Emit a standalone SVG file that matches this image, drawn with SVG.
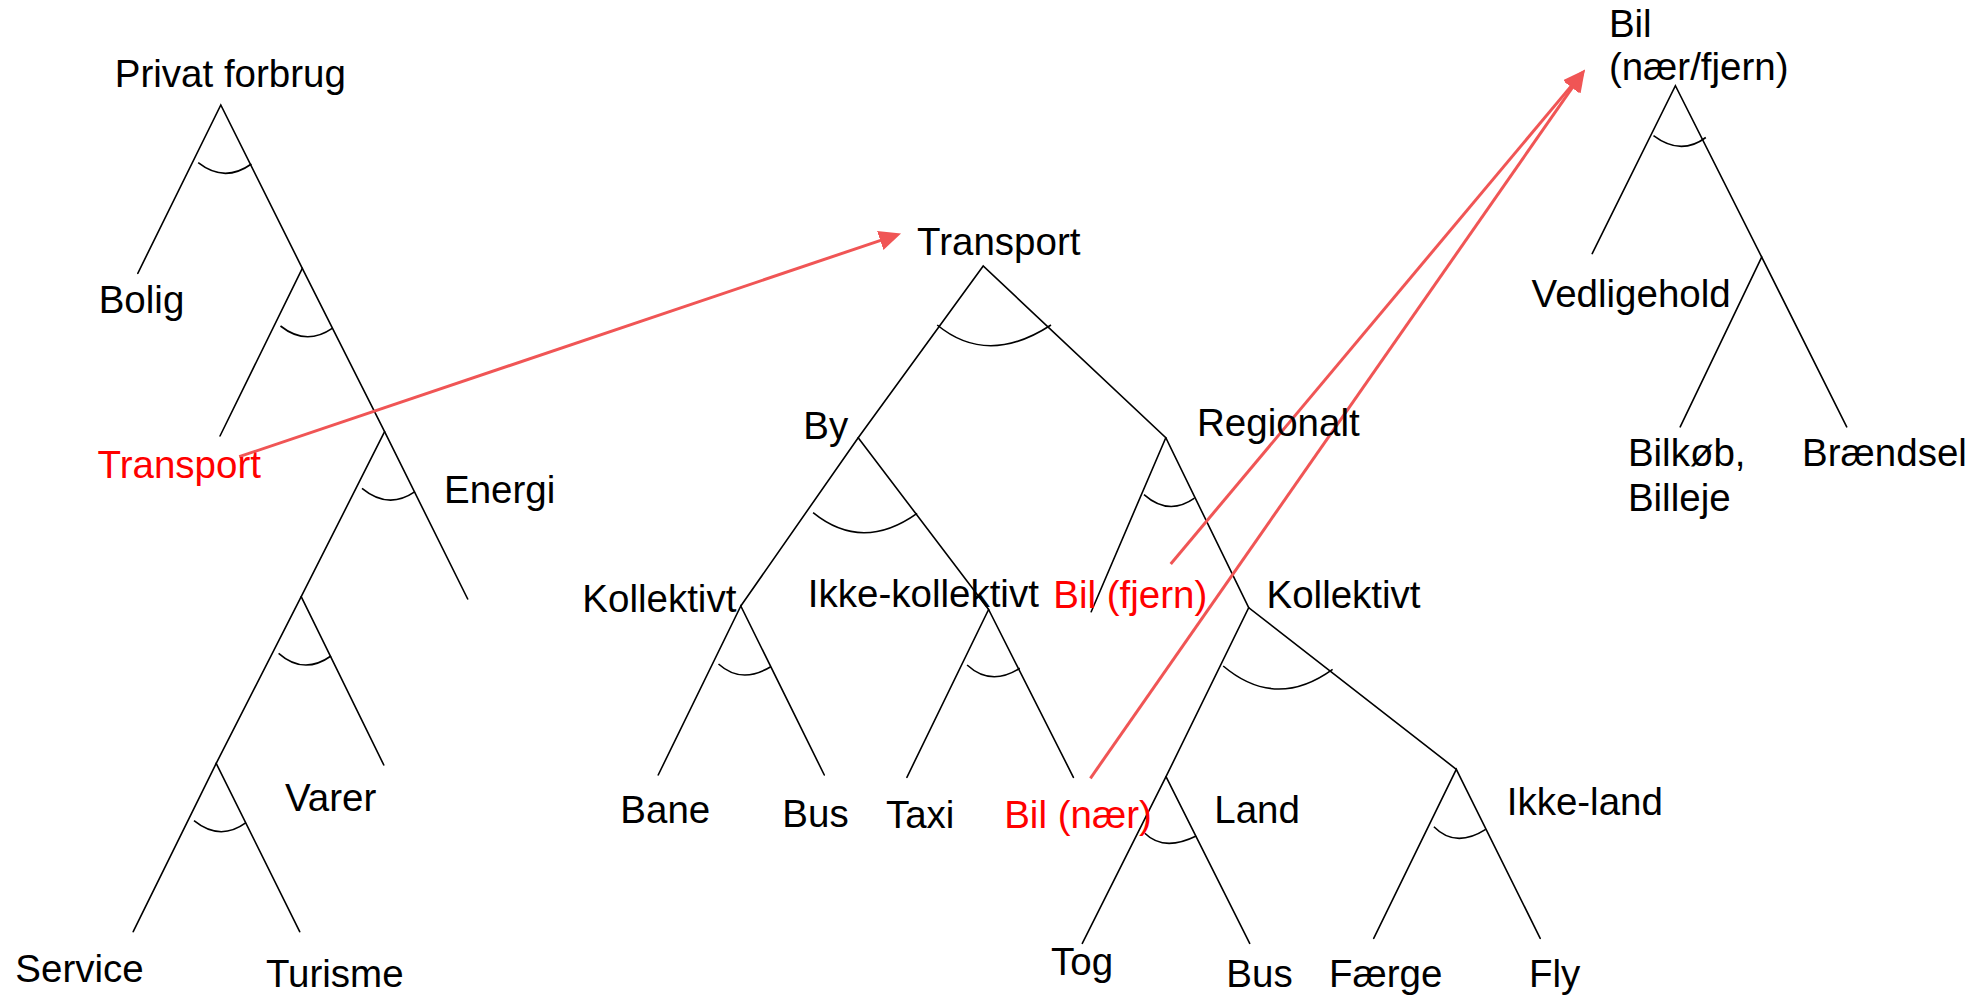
<svg xmlns="http://www.w3.org/2000/svg" width="1982" height="996" viewBox="0 0 1982 996">
<style>
text{font-family:"Liberation Sans",Arial,sans-serif;font-size:38.5px;fill:#000}
text.red{fill:#ff0000}
.br{stroke:#000;stroke-width:1.6;fill:none;stroke-linecap:round;stroke-linejoin:miter}
.arc{stroke:#000;stroke-width:1.6;fill:none}
.ar{stroke:#f05555;stroke-width:3;fill:none;marker-end:url(#ah)}
</style>
<defs>
<marker id="ah" markerUnits="userSpaceOnUse" markerWidth="22" markerHeight="20" refX="6" refY="10" orient="auto">
<path d="M0,0 L22,10 L0,20 z" fill="#f05555"/>
</marker>
</defs>
<rect width="1982" height="996" fill="#fff"/>
<g id="connectors">
<g id="branches">
<path class="br" d="M137.8,273.3 L220.8,105 L302.3,268.3 L384.6,431.7 L467.7,599"/>
<path class="br" d="M220,436 L302.3,268.3"/>
<path class="br" d="M384.6,431.7 L301.2,596.7 L216.2,763.3 L133.2,931.7"/>
<path class="br" d="M301.2,596.7 L383.8,765"/>
<path class="br" d="M216.2,763.3 L299.7,931.7"/>
<path class="br" d="M740.8,606 L858.2,437.7 L983.2,266 L1165.8,437.7 L1248.7,607.7"/>
<path class="br" d="M858.2,437.7 L988.6,609.5"/>
<path class="br" d="M1165.8,437.7 L1091.2,611.7"/>
<path class="br" d="M658.2,775 L740.8,606 L824.3,775"/>
<path class="br" d="M906.9,777.3 L988.6,609.5 L1073.4,777.3"/>
<path class="br" d="M1082.3,943.3 L1166,776.7 L1248.7,607.7 L1456.3,769.3"/>
<path class="br" d="M1166,776.7 L1249.7,943.3"/>
<path class="br" d="M1373.7,938.3 L1456.3,769.3 L1540.2,938.3"/>
<path class="br" d="M1592.2,253.6 L1675.4,85.7 L1761.7,257.1"/>
<path class="br" d="M1680.2,426.8 L1761.7,257.1 L1846.7,426.8"/>
</g>
<g id="arcs">
<path class="arc" d="M198.2,162.7 Q224.4,183.25 251.4,164"/>
<path class="arc" d="M280.5,326 Q306.05,346.25 332.2,328.3"/>
<path class="arc" d="M362,488.3 Q388.3,510 415,491.7"/>
<path class="arc" d="M278.6,653.3 Q303.6,675.35 331,656"/>
<path class="arc" d="M194,820.7 Q220,841.7 246,822.7"/>
<path class="arc" d="M937.2,325 Q987.5,366.4 1051,325"/>
<path class="arc" d="M813.1,512.7 Q862.1,552.4 917.1,513.3"/>
<path class="arc" d="M718.5,664 Q741.4,684.65 770.7,666.7"/>
<path class="arc" d="M967.1,665 Q990.75,686.75 1019.8,668.3"/>
<path class="arc" d="M1144,494.6 Q1168.75,516.4 1194.5,498.2"/>
<path class="arc" d="M1223.2,666 Q1275.7,710.35 1332.6,669.3"/>
<path class="arc" d="M1144.8,833.3 Q1163.7,851.95 1196.2,836"/>
<path class="arc" d="M1433.9,826.7 Q1455.4,848.6 1485.7,829.3"/>
<path class="arc" d="M1653.5,135.7 Q1680.75,156.2 1705.8,137.5"/>
</g>
<g id="links">
<line class="ar" x1="239.2" y1="456.7" x2="885.9" y2="238.6"/>
<line class="ar" x1="1170.7" y1="564" x2="1574.7" y2="81.9"/>
<line class="ar" x1="1090.4" y1="778.3" x2="1575.8" y2="82.7"/>
</g>
</g>
<g id="n-privat"><text x="114.8" y="87.3">Privat forbrug</text></g>
<g id="n-bolig"><text x="98.7" y="313.3">Bolig</text></g>
<g id="n-transport-l"><text class="red" x="97.6" y="478.3">Transport</text></g>
<g id="n-energi"><text x="444" y="503.3">Energi</text></g>
<g id="n-varer"><text x="285" y="810.7">Varer</text></g>
<g id="n-service"><text x="15.3" y="981.7">Service</text></g>
<g id="n-turisme"><text x="266" y="986.7">Turisme</text></g>
<g id="n-transport"><text x="917.1" y="255">Transport</text></g>
<g id="n-by"><text x="803.3" y="439.3">By</text></g>
<g id="n-regionalt"><text x="1197" y="436">Regionalt</text></g>
<g id="n-kollektivt-by"><text x="582.3" y="611.7">Kollektivt</text></g>
<g id="n-ikke-kollektivt"><text x="807.8" y="606.7">Ikke-kollektivt</text></g>
<g id="n-bil-fjern"><text class="red" x="1053.3" y="608.3">Bil (fjern)</text></g>
<g id="n-kollektivt-reg"><text x="1266.5" y="608.3">Kollektivt</text></g>
<g id="n-bane"><text x="620.3" y="823.3">Bane</text></g>
<g id="n-bus-by"><text x="782.3" y="826.7">Bus</text></g>
<g id="n-taxi"><text x="885.9" y="828.3">Taxi</text></g>
<g id="n-bil-naer"><text class="red" x="1004.2" y="828.3">Bil (nær)</text></g>
<g id="n-land"><text x="1214.3" y="823.3">Land</text></g>
<g id="n-ikke-land"><text x="1506.7" y="815">Ikke-land</text></g>
<g id="n-tog"><text x="1051" y="975">Tog</text></g>
<g id="n-bus-land"><text x="1226.3" y="986.7">Bus</text></g>
<g id="n-faerge"><text x="1329" y="986.7">Færge</text></g>
<g id="n-fly"><text x="1529" y="986.7">Fly</text></g>
<g id="n-bil"><text x="1608.9" y="36.8">Bil</text><text x="1608.9" y="80.4">(nær/fjern)</text></g>
<g id="n-vedligehold"><text x="1531.6" y="307.1">Vedligehold</text></g>
<g id="n-bilkob"><text x="1627.9" y="466">Bilkøb,</text><text x="1627.9" y="510.7">Billeje</text></g>
<g id="n-braendsel"><text x="1802.1" y="466">Brændsel</text></g>
</svg>
